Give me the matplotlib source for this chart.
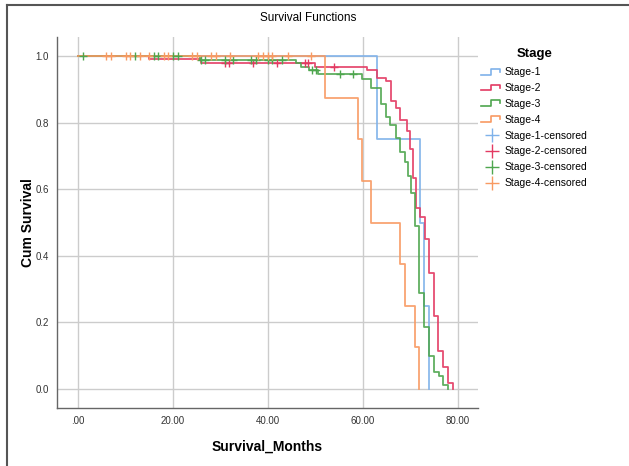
#--------importing modules-------------
import numpy as np
import matplotlib
matplotlib.use("Agg")
import matplotlib.pyplot as plt
from matplotlib.lines import Line2D
from matplotlib.legend_handler import HandlerBase

plt.rcParams["font.family"] = ["Liberation Sans", "DejaVu Sans"]

#-------read-off data (months, cum survival)-------
t1 = [0, 63.0, 72.0, 72.8, 74.0]
s1 = [1.0, 0.75, 0.50, 0.25, 0.0]

t2 = [0, 15.0, 26.0, 49.9, 60.9, 62.9, 64.8, 66.0, 66.9, 67.9, 69.2, 69.9,
      70.5, 71.2, 72.0, 73.1, 74.0, 75.0, 75.9, 76.9, 77.9, 78.9]
s2 = [1.0, 0.990, 0.978, 0.968, 0.958, 0.933, 0.925, 0.866, 0.845, 0.807, 0.775, 0.720,
      0.633, 0.543, 0.517, 0.450, 0.347, 0.220, 0.114, 0.067, 0.017, 0.0]

t3 = [0, 25.7, 45.9, 46.9, 48.7, 50.5, 59.9, 61.8, 63.9, 64.8, 65.8, 66.9, 67.8,
      68.8, 69.6, 70.2, 71.0, 71.9, 72.9, 74.0, 74.9, 76.1, 76.9, 78.0]
s3 = [1.0, 0.988, 0.978, 0.968, 0.958, 0.945, 0.930, 0.905, 0.855, 0.818, 0.793, 0.753, 0.711,
      0.683, 0.640, 0.590, 0.490, 0.289, 0.187, 0.099, 0.052, 0.039, 0.012, 0.0]

t4 = [0, 52.0, 59.0, 59.8, 61.8, 67.8, 68.9, 71.0, 71.8]
s4 = [1.0, 0.875, 0.75, 0.625, 0.5, 0.375, 0.25, 0.125, 0.0]

# censored times
c1 = []
c2 = [31.0, 31.9, 36.9, 42.0, 47.8, 48.4, 53.9]
c3 = [1.0, 12.0, 16.1, 16.8, 20.1, 21.1, 26.0, 26.7, 31.0, 32.7, 36.5, 37.6,
      40.0, 40.8, 42.9, 49.2, 50.1, 55.2, 58.0]
c4 = [6.0, 6.9, 10.1, 10.9, 13.1, 15.0, 18.2, 19.0, 24.1, 25.0, 28.1, 29.1,
      32.0, 37.9, 38.9, 40.0, 40.8, 44.2, 49.0]

stages = ["Stage-1", "Stage-2", "Stage-3", "Stage-4"]
colors = ["#7fb2ea", "#e33a62", "#4ea64e", "#f89a62"]
xticks = [0, 20, 40, 60, 80]
xticklabels = [".00", "20.00", "40.00", "60.00", "80.00"]
yticks = [0.0, 0.2, 0.4, 0.6, 0.8, 1.0]

#-------step glyph for the legend-------
class StepHandler(HandlerBase):
    def create_artists(self, legend, orig, xd, yd, w, h, fs, trans):
        xs = [xd, xd + 0.45*w, xd + 0.45*w, xd + 0.9*w, xd + 0.9*w]
        ys = [yd + 0.1*h, yd + 0.1*h, yd + 0.9*h, yd + 0.9*h, yd + 0.5*h]
        ln = Line2D(xs, ys, color=orig.get_color(), lw=1.2, transform=trans)
        return [ln]

#-------plotting-------
fig = plt.figure(figsize=(6.29, 4.66), dpi=100)
ax = fig.add_axes([0.0906, 0.1245, 0.669, 0.796])

curves = [(t1, s1, c1), (t2, s2, c2), (t3, s3, c3), (t4, s4, c4)]
line_handles = []
cens_handles = []
for (t, s, c), name, col in zip(curves, stages, colors):
    ln, = ax.step(t, s, where="post", color=col, lw=1.3, alpha=0.9)
    line_handles.append(ln)
for (t, s, c), name, col in zip(curves, stages, colors):
    c = np.array(c)
    idx = np.searchsorted(t, c, side="right") - 1
    lev = np.array(s)[idx] if len(c) else np.array([])
    ax.plot(c, lev, ls="none", marker="+", ms=6, mew=1.0, color=col)
    cens_handles.append(Line2D([], [], ls="none", marker="+", ms=10, mew=1.0, color=col))

ax.set_xlim(-4.4, 84.2)
ax.set_ylim(-0.057, 1.057)
ax.set_xticks(xticks)
ax.set_xticklabels(xticklabels)
ax.set_yticks(yticks)
ax.set_yticklabels(["%.1f" % v for v in yticks])
ax.tick_params(length=0, labelsize=7, labelcolor="#333333", pad=6)
ax.grid(True, color="#cccccc", lw=1.0)
ax.set_axisbelow(True)
for sp in ["top", "right"]:
    ax.spines[sp].set_visible(False)
for sp in ["left", "bottom"]:
    ax.spines[sp].set_color("#666666")
    ax.spines[sp].set_linewidth(1.0)

ax.set_xlabel("Survival_Months", fontsize=10, fontweight="bold")
ax.set_ylabel("Cum Survival", fontsize=10, fontweight="bold")
ax.xaxis.set_label_coords(0.5, -0.085)
ax.yaxis.set_label_coords(-0.052, 0.5)
fig.text(308/629, 1 - 18/466, "Survival Functions", ha="center", va="center", fontsize=8.5)

handles = line_handles + cens_handles
labels = stages + [n + "-censored" for n in stages]
hmap = {h: StepHandler() for h in line_handles}
leg = fig.legend(handles, labels, loc="upper left", bbox_to_anchor=(472/629, 1 - 39/466),
                 frameon=False, fontsize=7.5, title="Stage", handler_map=hmap,
                 handlelength=2.0, handletextpad=0.2, labelspacing=0.56)
leg.get_title().set_fontweight("bold")
leg.get_title().set_fontsize(9.5)
leg._legend_box.sep = 5

# outer frame lines (top and left)
fig.add_artist(Line2D([7/629, 1], [1 - 5/466, 1 - 5/466], color="#555555", lw=1.5,
                      transform=fig.transFigure))
fig.add_artist(Line2D([7/629, 7/629], [0, 1 - 5/466], color="#555555", lw=1.5,
                      transform=fig.transFigure))

fig.savefig("out.png", dpi=100)
